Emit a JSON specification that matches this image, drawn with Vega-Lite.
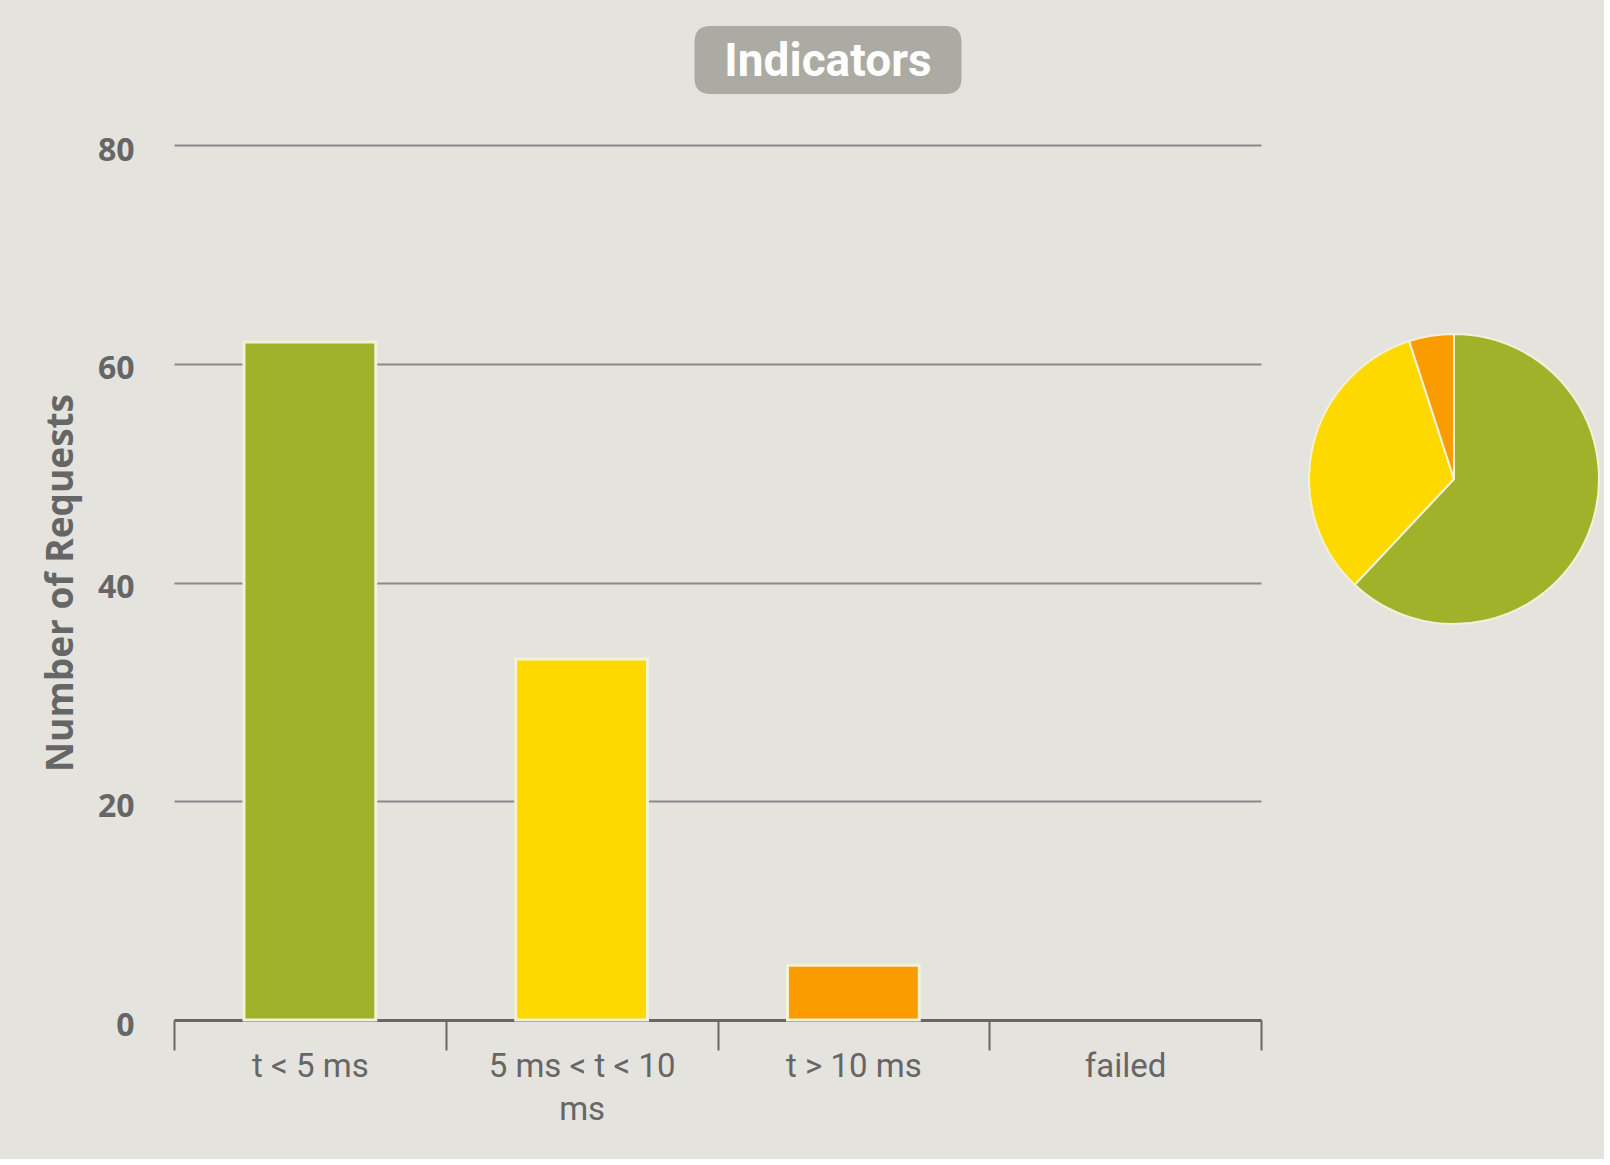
{
  "$schema": "https://vega.github.io/schema/vega-lite/v6.json",
  "background": "#e4e3de",
  "padding": {"left": 42, "top": 25, "right": 0, "bottom": 33},
  "bounds": "flush",
  "spacing": 50,
  "datasets": {
    "counts": [
      {"range": "t < 5 ms", "count": 62, "idx": 0},
      {"range": "5 ms < t < 10 ms", "count": 33, "idx": 1},
      {"range": "t > 10 ms", "count": 5, "idx": 2},
      {"range": "failed", "count": 0, "idx": 3}
    ],
    "heading": [{"label": "Indicators"}]
  },
  "vconcat": [
    {
      "width": 1308,
      "height": 70,
      "data": {"name": "heading"},
      "layer": [
        {
          "mark": {
            "type": "point",
            "shape": "M -0.88 -0.255 L 0.88 -0.255 Q 1 -0.255 1 -0.135 L 1 0.135 Q 1 0.255 0.88 0.255 L -0.88 0.255 Q -1 0.255 -1 0.135 L -1 -0.135 Q -1 -0.255 -0.88 -0.255 Z",
            "size": 71289,
            "filled": true,
            "fill": "#abaaa3",
            "opacity": 1,
            "strokeWidth": 0
          },
          "encoding": {}
        },
        {
          "mark": {
            "type": "text",
            "font": "Roboto",
            "fontWeight": "bold",
            "fontSize": 46,
            "color": "#ffffff",
            "align": "center",
            "baseline": "middle",
            "dy": 2
          },
          "encoding": {"text": {"field": "label"}}
        }
      ]
    },
    {
      "hconcat": [
        {
          "width": 1087,
          "height": 875,
          "data": {"name": "counts"},
          "mark": {"type": "bar", "width": {"band": 0.485}, "stroke": "#f3f2d6", "strokeWidth": 3},
          "encoding": {
            "x": {
              "field": "range",
              "type": "nominal",
              "sort": ["t < 5 ms", "5 ms < t < 10 ms", "t > 10 ms", "failed"],
              "scale": {"paddingInner": 0, "paddingOuter": 0},
              "axis": {
                "title": null,
                "labelAngle": 0,
                "tickBand": "extent",
                "tickSize": 30,
                "tickWidth": 2,
                "tickColor": "#666666",
                "domainColor": "#666666",
                "domainWidth": 3,
                "grid": false,
                "labelFont": "Roboto",
                "labelFontSize": 33,
                "labelColor": "#666666",
                "labelPadding": 0,
                "labelLimit": 400,
                "labelLineHeight": 43,
                "labelExpr": "datum.label == '5 ms < t < 10 ms' ? ['5 ms < t < 10', 'ms'] : datum.label"
              }
            },
            "y": {
              "field": "count",
              "type": "quantitative",
              "scale": {"domain": [0, 80]},
              "axis": {
                "title": "Number of Requests",
                "values": [0, 20, 40, 60, 80],
                "ticks": false,
                "domain": false,
                "grid": true,
                "gridColor": "#8a8a8a",
                "gridWidth": 2,
                "labelFont": "Open Sans",
                "labelFontWeight": "bold",
                "labelFontSize": 32,
                "labelColor": "#666666",
                "labelPadding": 40,
                "labelOffset": 5,
                "titleFont": "Open Sans",
                "titleFontSize": 37,
                "titleFontWeight": "bold",
                "titleColor": "#666666",
                "titlePadding": 17
              }
            },
            "color": {
              "field": "range",
              "type": "nominal",
              "scale": {
                "domain": ["t < 5 ms", "5 ms < t < 10 ms", "t > 10 ms", "failed"],
                "range": ["#a0b22a", "#fdd900", "#fa9b00", "#cc3333"]
              },
              "legend": null
            },
            "strokeOpacity": {"condition": {"test": "datum.count == 0", "value": 0}, "value": 1}
          }
        },
        {
          "width": 300,
          "height": 668,
          "data": {"name": "counts"},
          "transform": [{"filter": "datum.count > 0"}],
          "mark": {"type": "arc", "outerRadius": 145, "stroke": "#f3f2d6", "strokeWidth": 2},
          "encoding": {
            "theta": {"field": "count", "type": "quantitative", "stack": true},
            "order": {"field": "idx", "type": "quantitative"},
            "color": {
              "field": "range",
              "type": "nominal",
              "scale": {
                "domain": ["t < 5 ms", "5 ms < t < 10 ms", "t > 10 ms", "failed"],
                "range": ["#a0b22a", "#fdd900", "#fa9b00", "#cc3333"]
              },
              "legend": null
            }
          }
        }
      ],
      "spacing": 43,
      "bounds": "flush"
    }
  ],
  "config": {"view": {"stroke": null}}
}
